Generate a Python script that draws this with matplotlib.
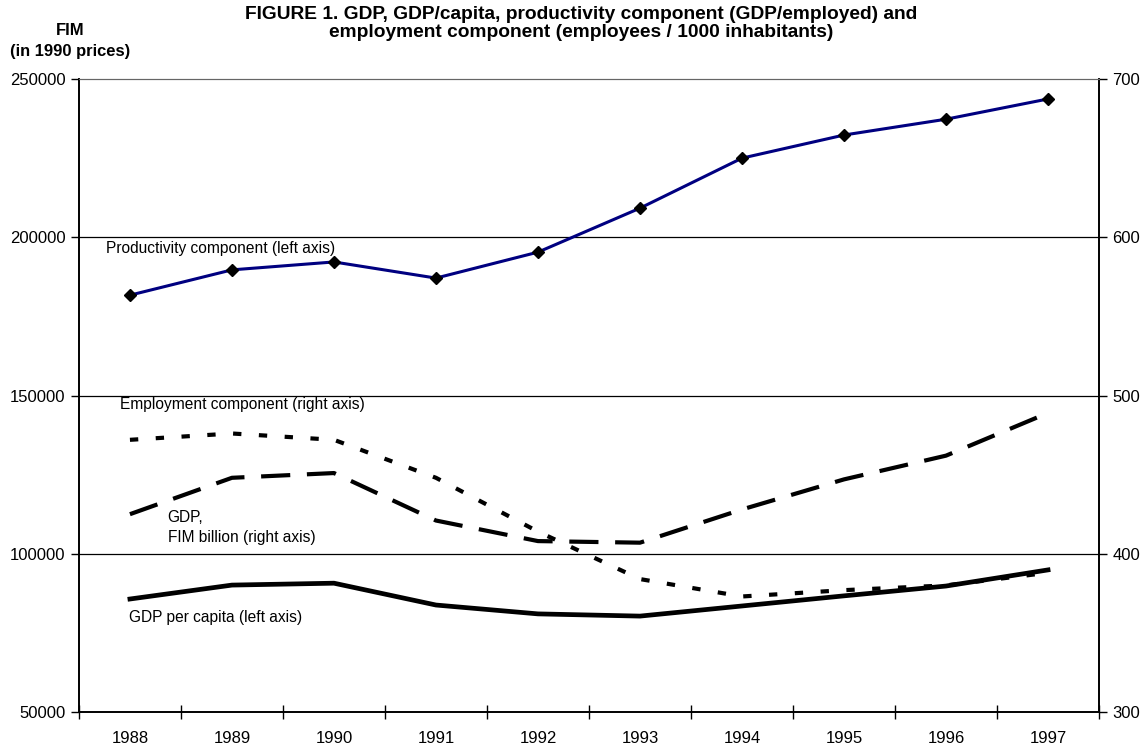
import matplotlib.pyplot as plt
import numpy as np

plt.rcParams['font.family'] = ['Liberation Sans', 'DejaVu Sans']

years = ['1988', '1989', '1990', '1991', '1992', '1993', '1994', '1995', '1996', '1997']

# left axis (FIM, 1990 prices)
productivity = [181700, 189700, 192200, 187100, 195300, 209200, 225000, 232300, 237300, 243700]
gdp_per_capita = [85700, 90100, 90700, 83800, 81000, 80300, 83500, 86700, 89800, 94900]

# right axis
gdp_billion = [425, 448, 451, 421, 408, 407, 428, 447, 462, 489]
employment = [472, 476, 472, 448, 414, 384, 373, 377, 380, 388]

x = np.arange(len(years))

fig = plt.figure(figsize=(11.44, 7.49), dpi=100)
ax = fig.add_axes([0.069, 0.0494, 0.8917, 0.8451])
ax2 = ax.twinx()

ax.set_xlim(-0.5, len(years) - 0.5)
ax.set_ylim(50000, 250000)
ax2.set_ylim(300, 700)

# gridlines
for v in [100000, 150000, 200000]:
    ax.axhline(v, color='black', lw=0.9, zorder=1)

ax.plot(x, productivity, color='#000080', lw=2.2, marker='D', ms=6,
        mfc='black', mec='black', zorder=4)
ax.plot(x, gdp_per_capita, color='black', lw=3.4, zorder=3)
ax2.plot(x, gdp_billion, color='black', lw=3.0, dashes=(7, 4), zorder=3)
ax2.plot(x, employment, color='black', lw=3.0, dashes=(2.0, 4.2), zorder=3)

# axes styling
ax.set_xticks(x)
ax.set_xticklabels(years, fontsize=12)
ax.set_xticks(np.arange(-0.5, len(years) + 0.5, 1), minor=True)
ax.tick_params(axis='x', which='major', length=0, pad=14)
ax.tick_params(axis='x', which='minor', direction='inout', length=10, width=1)
ax.set_yticks([50000, 100000, 150000, 200000, 250000])
ax.tick_params(axis='y', direction='out', length=6, width=1, labelsize=12)
ax2.set_yticks([300, 400, 500, 600, 700])
ax2.tick_params(axis='y', direction='out', length=6, width=1, labelsize=12)

for a in (ax, ax2):
    a.spines['top'].set_color('#666666')
    a.spines['left'].set_linewidth(1.2)
    a.spines['right'].set_linewidth(1.2)
    a.spines['bottom'].set_linewidth(1.2)

# series labels
ax.text(-0.235, 196600, 'Productivity component (left axis)', fontsize=11.2, va='center')
ax.text(-0.10, 147300, 'Employment component (right axis)', fontsize=11.2, va='center')
ax.text(0.37, 111300, 'GDP,', fontsize=11.2, va='center')
ax.text(0.37, 105000, 'FIM billion (right axis)', fontsize=11.2, va='center')
ax.text(-0.01, 80000, 'GDP per capita (left axis)', fontsize=11.2, va='center')

fig.text(0.508, 0.969, 'FIGURE 1. GDP, GDP/capita, productivity component (GDP/employed) and\n'
         'employment component (employees / 1000 inhabitants)',
         ha='center', va='center', fontsize=13.8, fontweight='bold', linespacing=1.08)
fig.text(0.061, 0.945, 'FIM\n(in 1990 prices)', ha='center', va='center',
         fontsize=11.9, fontweight='bold', linespacing=1.45)

fig.savefig('out.png', dpi=100)
